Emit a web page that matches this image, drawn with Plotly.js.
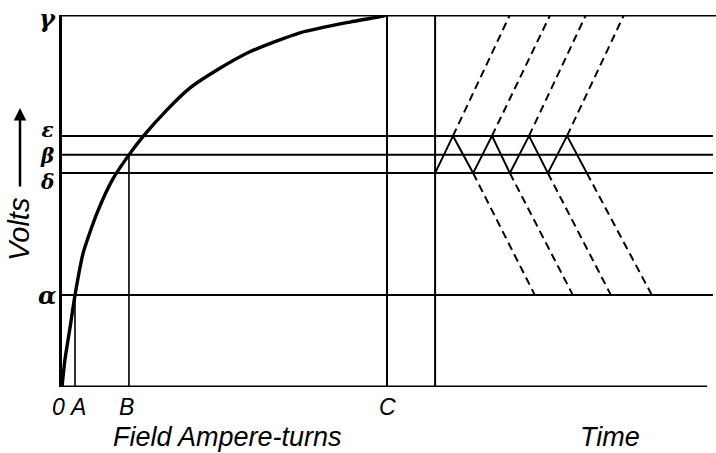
<!DOCTYPE html>
<html>
<head>
<meta charset="utf-8">
<script src="https://cdn.plot.ly/plotly-3.0.1.min.js"></script>
<style>html,body{margin:0;padding:0;background:#fff;}#chart{width:716px;height:453px;}</style>
</head>
<body>
<div id="chart"></div>
<script>
// Magnetization curve (field ampere-turns vs volts), arbitrary units: C = 100, gamma = 100
const curveX = [0, 0.9, 2.5, 4, 6.5, 10.8, 15.7, 20.6, 24.9, 32.3, 39.4, 47.7, 57.8, 73.2, 88.6, 98.8, 100];
const curveY = [0, 7.3, 16.1, 24.7, 36.0, 46.8, 56.0, 62.4, 67.3, 74.5, 80.4, 85.2, 90.1, 95.2, 98.1, 99.7, 100];

// Voltage levels
const levelNames = ['α', 'δ', 'β', 'ε', 'γ'];
const levelValues = [24.7, 57.5, 62.4, 67.5, 100];

// Field ampere-turn ticks
const fieldTicks = [0, 4, 20.6, 100];
const fieldTickText = ['0', 'A', 'B', 'C'];

// Time diagram (same horizontal units, time origin at 114.8)
const timeOrigin = 114.8;
const timeEnd = 201.2;
const levelLineEnd = 200.3;
const baseLineEnd = 198.5;

// Triangular voltage oscillation between delta and epsilon
const waveX = [114.8, 120.3, 126.5, 132.3, 137.8, 143.7, 149.5, 155.4, 161.5];
const waveY = [57.5, 67.5, 57.5, 67.5, 57.5, 67.5, 57.5, 67.5, 57.5];

// Dashed rising lines (peaks -> gamma) and falling lines (troughs -> alpha)
const riseStartX = [120.3, 132.3, 143.7, 155.4];
const riseEndX = [137.8, 150.2, 161.2, 172.9];
const fallStartX = [126.5, 137.8, 149.5, 161.5];
const fallEndX = [145.5, 157.2, 168.9, 181.5];

const lv = {};
levelNames.forEach((n, i) => lv[n] = levelValues[i]);

function segs(list) {
  const x = [], y = [];
  list.forEach(s => { x.push(s[0], s[2], null); y.push(s[1], s[3], null); });
  return {x, y};
}

const black = '#000';
const traces = [];

// frame: top and bottom lines
const frame = segs([
  [0, lv['γ'], timeEnd, lv['γ']],
  [0, 0, baseLineEnd, 0]
]);
traces.push({x: frame.x, y: frame.y, mode: 'lines', line: {color: black, width: 3}, cliponaxis: false, hoverinfo: 'skip'});

// level lines
const lvl = segs(['α', 'δ', 'β', 'ε'].map(n => [0, lv[n], levelLineEnd, lv[n]]));
traces.push({x: lvl.x, y: lvl.y, mode: 'lines', line: {color: black, width: 2}, cliponaxis: false, hoverinfo: 'skip'});

// verticals
const vC = segs([
  [fieldTicks[3], 0, fieldTicks[3], lv['γ']],
  [timeOrigin, 0, timeOrigin, lv['γ']]
]);
traces.push({x: vC.x, y: vC.y, mode: 'lines', line: {color: black, width: 2}, cliponaxis: false, hoverinfo: 'skip'});
const vAB = segs([
  [fieldTicks[1], 0, fieldTicks[1], lv['α']],
  [fieldTicks[2], 0, fieldTicks[2], lv['β']]
]);
traces.push({x: vAB.x, y: vAB.y, mode: 'lines', line: {color: black, width: 1.6}, cliponaxis: false, hoverinfo: 'skip'});

// magnetization curve
traces.push({x: curveX, y: curveY, mode: 'lines', line: {color: black, width: 3.4, shape: 'spline', smoothing: 0.6}, cliponaxis: false, hoverinfo: 'skip'});

// wave
traces.push({x: waveX, y: waveY, mode: 'lines', line: {color: black, width: 2}, cliponaxis: false, hoverinfo: 'skip'});

// dashed lines
const rise = segs(riseStartX.map((x0, i) => [x0, lv['ε'], riseEndX[i], lv['γ']]));
const fall = segs(fallStartX.map((x0, i) => [x0, lv['δ'], fallEndX[i], lv['α']]));
traces.push({x: rise.x.concat(fall.x), y: rise.y.concat(fall.y), mode: 'lines', line: {color: black, width: 2, dash: '8px,5px'}, cliponaxis: false, hoverinfo: 'skip'});

const sans = 'Liberation Sans';
const labelFont = {family: sans, size: 27, color: black, style: 'italic'};
const tickFont = {family: sans, size: 23, color: black, style: 'italic'};
const greekFont = {family: 'DejaVu Serif', size: 24, color: black, style: 'italic', weight: 'bold'};
const greekStackFont = {family: 'DejaVu Serif', size: 20, color: black, style: 'italic', weight: 'bold'};

const W = 654, H = 372, L = 62, T = 15;
const px = v => (v - L) / W;
const py = v => (T + H - v) / H;

const annotations = [
  {text: 'Field Ampere-turns', xref: 'paper', yref: 'paper', x: px(227), y: py(437),
   xanchor: 'center', yanchor: 'middle', showarrow: false, font: labelFont},
  {text: 'Time', xref: 'paper', yref: 'paper', x: px(610), y: py(437),
   xanchor: 'center', yanchor: 'middle', showarrow: false, font: labelFont},
  {text: 'Volts', xref: 'paper', yref: 'paper', x: px(19), y: py(230),
   xanchor: 'center', yanchor: 'middle', showarrow: false, textangle: -90,
   font: {family: sans, size: 29, color: black, style: 'italic'}},
  {text: '', xref: 'paper', yref: 'paper', x: px(20), y: py(108),
   ax: 0, ay: 80, showarrow: true, arrowhead: 2, arrowsize: 1, arrowwidth: 2.5, arrowcolor: black}
];

// field tick labels (0, A, B, C)
const tickShift = [-4, 2, -2, 0];
fieldTicks.forEach((v, i) => annotations.push({
  text: fieldTickText[i], xref: 'x', yref: 'paper', x: v, y: py(407), xshift: tickShift[i],
  xanchor: 'center', yanchor: 'middle', showarrow: false, font: tickFont
}));

// greek level labels: gamma and alpha alone, epsilon/beta/delta stacked (closely spaced)
annotations.push({text: levelNames[4], xref: 'paper', yref: 'y', x: px(47), y: lv['γ'], yshift: -3,
  xanchor: 'center', yanchor: 'middle', showarrow: false, font: greekFont});
annotations.push({text: levelNames[0], xref: 'paper', yref: 'y', x: px(47), y: lv['α'],
  xanchor: 'center', yanchor: 'middle', showarrow: false, font: greekFont});
annotations.push({text: [levelNames[3], levelNames[2], levelNames[1]].join('<br>'), xref: 'paper', yref: 'y',
  x: px(47), y: lv['β'], yshift: -1, xanchor: 'center', yanchor: 'middle', showarrow: false, font: greekStackFont});

const layout = {
  width: 716, height: 453,
  margin: {l: L, r: 0, t: T, b: 66},
  paper_bgcolor: '#fff', plot_bgcolor: '#fff',
  showlegend: false,
  xaxis: {
    range: [0, W / 3.25], showgrid: false, zeroline: false, showline: false,
    showticklabels: false, ticks: '', fixedrange: true
  },
  yaxis: {
    range: [0, 100], showgrid: false, zeroline: false, showline: true, linewidth: 3, linecolor: black,
    showticklabels: false, ticks: '', fixedrange: true
  },
  annotations: annotations
};

Plotly.newPlot('chart', traces, layout, {staticPlot: true, displayModeBar: false});
</script>
</body>
</html>
